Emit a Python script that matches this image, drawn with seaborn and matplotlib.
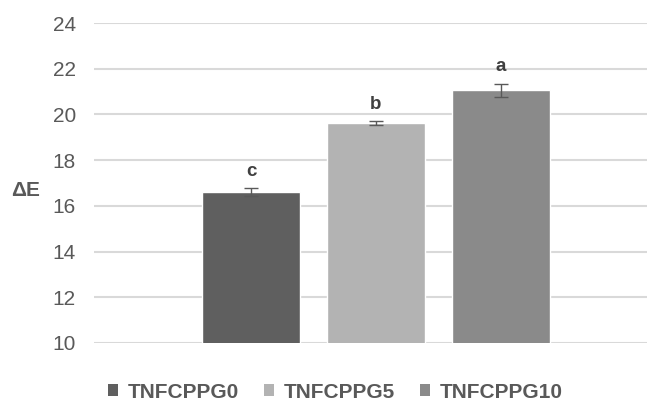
import seaborn as sns
import matplotlib.pyplot as plt
from matplotlib.patches import Patch

# data
groups = ['TNFCPPG0', 'TNFCPPG5', 'TNFCPPG10']
delta_e = [16.6, 19.63, 21.05]
errors = [0.16, 0.08, 0.30]
letters = ['c', 'b', 'a']
colors = ['#5f5f5f', '#b3b3b3', '#8a8a8a']

sns.set_style('white')
plt.rcParams['font.family'] = ['Liberation Sans', 'DejaVu Sans']

fig = plt.figure(figsize=(6.47, 4.01), dpi=100)
ax = fig.add_axes([94 / 647, 1 - 343 / 401, 1 - 94 / 647, 320 / 401])

sns.barplot(x=groups, y=delta_e, hue=groups, palette=colors, width=0.784,
            legend=False, ax=ax, zorder=2, saturation=1)
ax.errorbar(range(len(groups)), delta_e, yerr=errors, fmt='none',
            ecolor='#595959', elinewidth=1.0, capsize=4.7, capthick=1.0, zorder=3)

for i, (v, e, lab) in enumerate(zip(delta_e, errors, letters)):
    ax.annotate(lab, (i, v + e), xytext=(0, 6), textcoords='offset points',
                ha='center', va='bottom', fontsize=13.5, fontweight='bold', color='#404040')

ax.set_ylim(10, 24)
ax.set_yticks(range(10, 25, 2))
ax.set_xlim(-1.256, 3.168)
ax.set_xticks([])
ax.yaxis.grid(True, color='#d9d9d9', linewidth=1.5, zorder=0)
ax.set_axisbelow(True)
for s in ax.spines.values():
    s.set_visible(False)
ax.tick_params(axis='y', length=0, pad=13, labelsize=15, labelcolor='#595959')
ax.set_ylabel('')
fig.text(11 / 647, 1 - 191 / 401, 'ΔE', fontsize=15, fontweight='bold',
         color='#595959', ha='left', va='center')

handles = [Patch(facecolor=c, edgecolor='none', label=g) for g, c in zip(groups, colors)]
leg = fig.legend(handles=handles, loc='center', bbox_to_anchor=(335 / 647, 1 - 392 / 401), ncol=3,
                 frameon=False, handlelength=0.5, handleheight=0.5, handletextpad=0.45,
                 columnspacing=1.2, prop={'size': 15, 'weight': 'bold'})
for t in leg.get_texts():
    t.set_color('#595959')

fig.savefig('out.png', dpi=100)
